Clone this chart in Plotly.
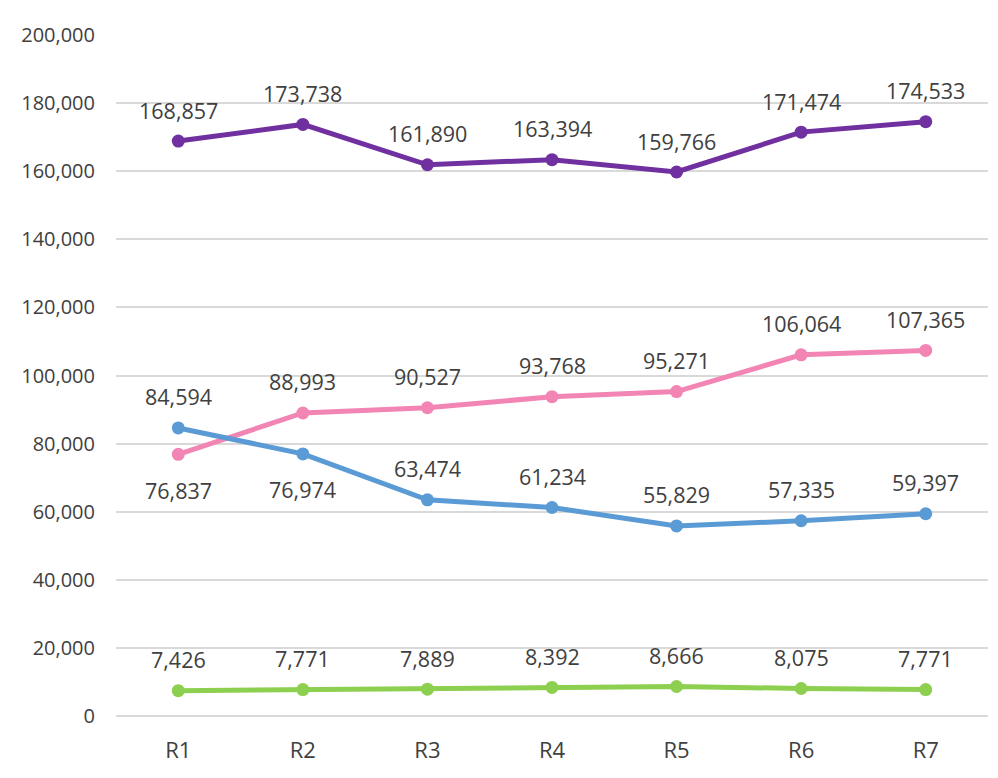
import plotly.graph_objects as go

categories = ["R1", "R2", "R3", "R4", "R5", "R6", "R7"]
purple_vals = [168857, 173738, 161890, 163394, 159766, 171474, 174533]
pink_vals = [76837, 88993, 90527, 93768, 95271, 106064, 107365]
blue_vals = [84594, 76974, 63474, 61234, 55829, 57335, 59397]
green_vals = [7426, 7771, 7889, 8392, 8666, 8075, 7771]

y_ticks = list(range(0, 200001, 20000))

# label placement: 1 = above, -1 = below
pink_side = [-1, 1, 1, 1, 1, 1, 1]
blue_side = [1, -1, 1, 1, 1, 1, 1]

series = [
    (purple_vals, "#7030A0", [1] * 7),
    (pink_vals, "#F285B4", pink_side),
    (blue_vals, "#5B9BD5", blue_side),
    (green_vals, "#8DCF4F", [1] * 7),
]

FONT = "Open Sans"
TXT = "#404040"

fig = go.Figure()
for vals, color, sides in series:
    fig.add_trace(go.Scatter(
        x=categories, y=vals, mode="lines+markers",
        line=dict(color=color, width=5),
        marker=dict(color=color, size=13),
        showlegend=False, cliponaxis=False,
    ))
    for c, v, s in zip(categories, vals, sides):
        fig.add_annotation(
            x=c, y=v, text=f"{v:,}", showarrow=False,
            yshift=31 if s > 0 else -36,
            font=dict(size=21.5, color=TXT, family=FONT),
        )

fig.update_layout(
    width=982, height=762,
    margin=dict(l=108, r=2, t=27, b=54),
    paper_bgcolor="white", plot_bgcolor="white",
    font=dict(family=FONT, color=TXT),
)
fig.update_xaxes(range=[-0.5, 6.5], showgrid=False, showline=False, ticks="",
                 tickfont=dict(size=22, color=TXT), ticklabelstandoff=19)
fig.update_yaxes(range=[0, 200000], tickvals=y_ticks,
                 ticktext=[f"{v:,}" for v in y_ticks],
                 showgrid=True, gridcolor="#D9D9D9", gridwidth=1.5,
                 zeroline=True, zerolinecolor="#D9D9D9", zerolinewidth=1.5,
                 tickfont=dict(size=20, color=TXT), ticklabelstandoff=20)

fig.write_html("out.html")
